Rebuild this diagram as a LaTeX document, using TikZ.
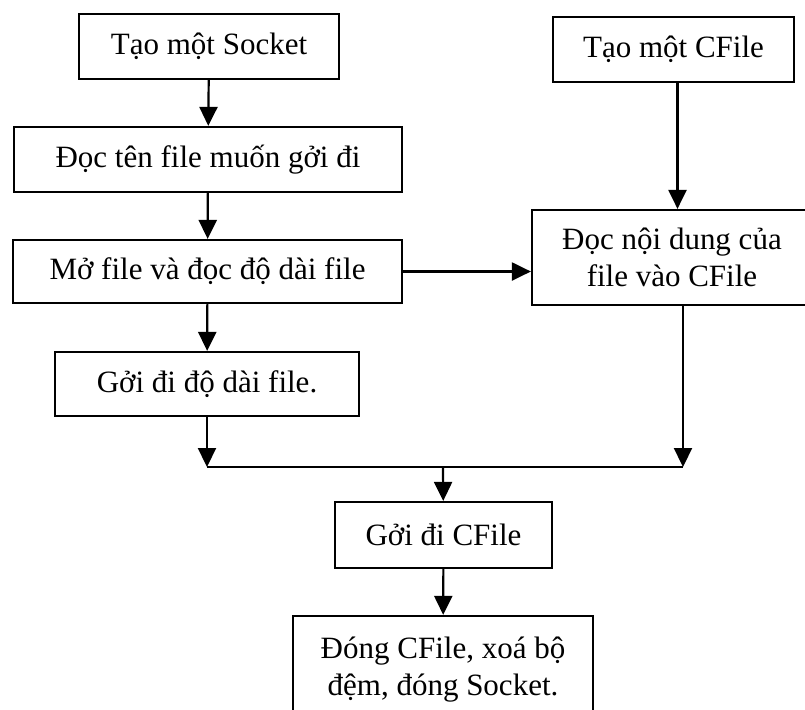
\documentclass[tikz,border=0pt]{standalone}
\usepackage{fontspec}
\setmainfont{Liberation Serif}
\usetikzlibrary{arrows.meta}
\tikzset{
  hop/.style={draw, line width=1.1pt, inner sep=0pt, align=center,
    font=\fontsize{15.5}{18.5}\selectfont},
  mui/.style={-{Triangle[length=9.5pt,width=9pt]}, line width=1.1pt}
}
\begin{document}
\begin{tikzpicture}[x=0.5pt, y=-0.5pt]
				% 1. khung
				\clip (0,0) rectangle (805,709);
				\fill[white] (0,0) rectangle (805,709);
				
				% 2. nhánh trái
				\node[hop, minimum width=130pt, minimum height=32.5pt] (socket) at (209,46.5) {Tạo một Socket};
				\node[hop, minimum width=194pt, minimum height=32.5pt] (tenfile) at (208,159.5) {Đọc tên file muốn gởi đi};
				\node[hop, minimum width=194.5pt, minimum height=31.5pt] (mofile) at (207.5,271.5) {Mở file và đọc độ dài file};
				\node[hop, minimum width=152pt, minimum height=32pt] (dodai) at (207,384) {Gởi đi độ dài file.};
				
				% 3. nhánh phải
				\node[hop, minimum width=120.5pt, minimum height=32.5pt] (cfile) at (673.5,49.5) {Tạo một CFile};
				\node[hop, minimum width=140pt, minimum height=47.5pt] (noidung) at (672,257.5) {Đọc nội dung của\\file vào CFile};
				
				% 4. phần cuối
				\node[hop, minimum width=108.5pt, minimum height=33pt] (guicfile) at (443.5,535) {Gởi đi CFile};
				\node[hop, minimum width=150pt, minimum height=54pt] (dong) at (443,670) {Đóng CFile, xoá bộ\\đệm, đóng Socket.};
				
				% 5. mũi tên
				\coordinate (hop) at (443,467);
				\draw[mui] (socket) -- (tenfile);
				\draw[mui] (tenfile) -- (mofile);
				\draw[mui] (mofile) -- (dodai);
				\draw[mui] ([xshift=2pt]cfile.south) -- ([xshift=2pt]cfile.south |- noidung.north);
				\draw[mui] (mofile.east) -- (mofile.east -| noidung.west);
				\coordinate (trai) at (dodai.south |- hop);
				\coordinate (phai) at (683,467);
				\draw[mui] (dodai.south) -- (trai);
				\draw[mui] (phai |- noidung.south) -- (phai);
				\draw[line width=1.1pt] (trai) -- (phai);
				\draw[mui] (hop) -- (guicfile);
				\draw[mui] (guicfile) -- (dong);
			\end{tikzpicture}
\end{document}
